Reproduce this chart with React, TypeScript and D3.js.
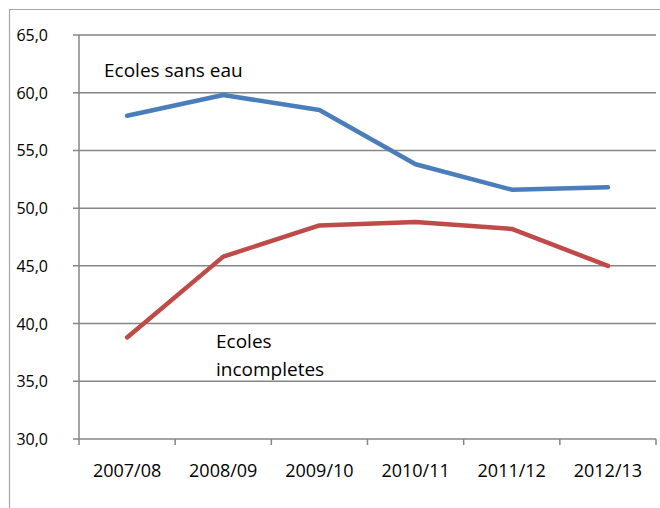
import React from "react";
import * as d3 from "d3";

const categories = ["2007/08", "2008/09", "2009/10", "2010/11", "2011/12", "2012/13"];
const sansEau = [58.0, 59.8, 58.5, 53.8, 51.6, 51.8];
const incompletes = [38.8, 45.8, 48.5, 48.8, 48.2, 45.0];
const yTicks = [30, 35, 40, 45, 50, 55, 60, 65];

const W = 660;
const H = 508;
const left = 79;
const right = 656;
const top = 35;
const bottom = 439;
const FONT = "'Open Sans', 'Noto Sans', sans-serif";

export default function App() {
  const x = d3.scaleBand<string>().domain(categories).range([left, right]);
  const y = d3.scaleLinear().domain([30, 65]).range([bottom, top]);
  const cx = (c: string) => (x(c) ?? 0) + x.bandwidth() / 2;
  const line = d3
    .line<number>()
    .x((_, i) => cx(categories[i]))
    .y((d) => y(d));
  const fmt = (v: number) => v.toFixed(1).replace(".", ",");
  const grid = "#868686";
  const boundaries = [...categories.map((c) => x(c) ?? 0), right];

  return (
    <svg
      width={W}
      height={H}
      style={{ position: "absolute", left: 0, top: 0, background: "#fff" }}
    >
      <rect x={0} y={0} width={W} height={H} fill="#fff" />
      {/* outer frame */}
      <path d={`M9.5,${H} L9.5,9.5 L${W},9.5`} fill="none" stroke="#a6a6a6" strokeWidth={1.2} />
      {/* gridlines + y ticks */}
      {yTicks.map((t) => (
        <g key={t}>
          <line x1={left - 6} x2={right} y1={y(t)} y2={y(t)} stroke={grid} strokeWidth={1.5} />
          <text
            x={48}
            y={y(t) + 6}
            textAnchor="end"
            fontFamily={FONT}
            fontSize={16}
            fill="#000"
          >
            {fmt(t)}
          </text>
        </g>
      ))}
      {/* y axis */}
      <line x1={left} x2={left} y1={top} y2={bottom} stroke={grid} strokeWidth={1.5} />
      {/* x ticks */}
      {boundaries.map((b, i) => (
        <line key={i} x1={b} x2={b} y1={bottom} y2={bottom + 6} stroke={grid} strokeWidth={1.5} />
      ))}
      {categories.map((c) => (
        <text
          key={c}
          x={cx(c)}
          y={477}
          textAnchor="middle"
          fontFamily={FONT}
          fontSize={18}
          fill="#000"
        >
          {c}
        </text>
      ))}
      <path d={line(sansEau) ?? ""} fill="none" stroke="#4a7ebb" strokeWidth={4.5} strokeLinejoin="round" strokeLinecap="round" />
      <path d={line(incompletes) ?? ""} fill="none" stroke="#be4b48" strokeWidth={4.5} strokeLinejoin="round" strokeLinecap="round" />
      <text x={104} y={77} fontFamily={FONT} fontSize={19} fill="#000">
        Ecoles sans eau
      </text>
      <text x={216} y={348} fontFamily={FONT} fontSize={19} fill="#000">
        Ecoles
      </text>
      <text x={216} y={376} fontFamily={FONT} fontSize={19} fill="#000">
        incompletes
      </text>
    </svg>
  );
}
